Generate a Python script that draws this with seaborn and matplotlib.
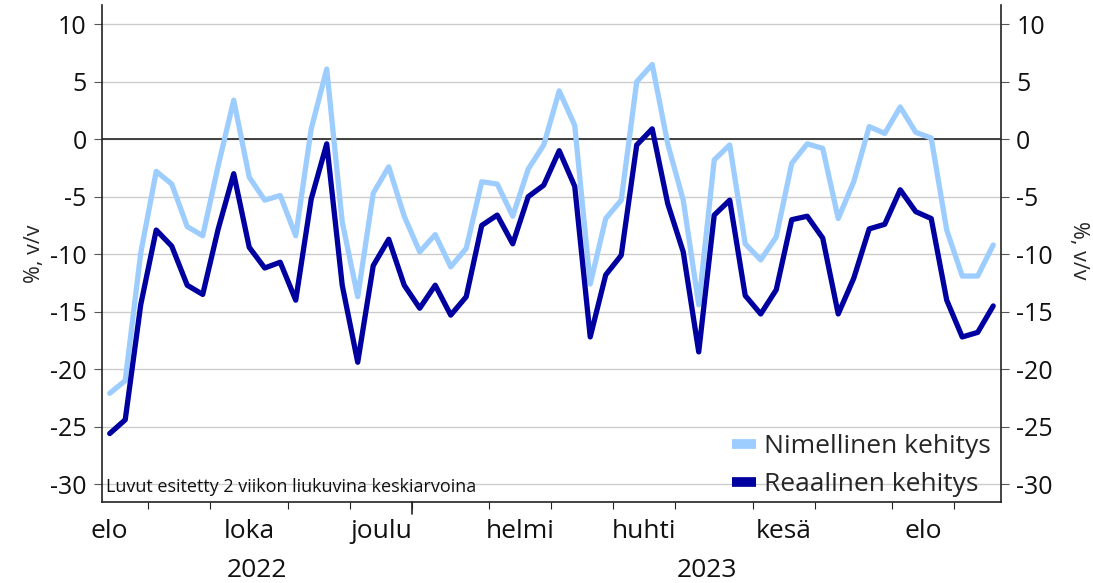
import numpy as np
import pandas as pd
import matplotlib
matplotlib.use("Agg")
import matplotlib.pyplot as plt
import seaborn as sns

# weekly values, Aug 2022 - Sep 2023 (2-week moving averages)
nominal = [-22.1, -21.0, -9.9, -2.8, -3.9, -7.6, -8.4, -2.3, 3.4, -3.3,
           -5.3, -4.9, -8.4, 0.9, 6.1, -7.2, -13.7, -4.7, -2.4, -6.7,
           -9.8, -8.3, -11.1, -9.5, -3.7, -3.9, -6.7, -2.6, -0.5, 4.2,
           1.2, -12.6, -6.9, -5.3, 5.0, 6.5, -0.4, -5.3, -14.4, -1.8,
           -0.5, -9.1, -10.5, -8.5, -2.1, -0.4, -0.8, -6.9, -3.7, 1.1,
           0.5, 2.8, 0.6, 0.1, -7.9, -11.9, -11.9, -9.2]
real = [-25.6, -24.4, -14.4, -7.9, -9.3, -12.7, -13.5, -7.8, -3.0, -9.4,
        -11.2, -10.7, -14.0, -5.2, -0.4, -12.7, -19.4, -11.0, -8.7, -12.7,
        -14.7, -12.7, -15.3, -13.7, -7.5, -6.6, -9.1, -5.0, -4.0, -1.0,
        -4.1, -17.2, -11.8, -10.1, -0.5, 0.9, -5.6, -9.8, -18.5, -6.6,
        -5.3, -13.6, -15.2, -13.1, -7.0, -6.7, -8.6, -15.2, -12.1, -7.8,
        -7.4, -4.4, -6.3, -6.9, -14.0, -17.2, -16.8, -14.5]

# first week index of each month (Aug 2022 ... Sep 2023)
month_starts = [0, 3, 7, 12, 16, 20, 25, 29, 33, 37, 42, 46, 51, 55, 58]
month_names = ["elo", "", "loka", "", "joulu", "", "helmi", "", "huhti", "",
               "kesä", "", "elo", ""]
years = ["2022", "2023"]
year_bounds = [0, 20, 58]

series_names = ["Nimellinen kehitys", "Reaalinen kehitys"]
colors = ["#9dcdff", "#0000a0"]

n = len(nominal)
df = pd.DataFrame({
    "week": list(range(n)) * 2,
    "value": nominal + real,
    "series": [series_names[0]] * n + [series_names[1]] * n,
})

sns.set_style("white")
plt.rcParams["font.family"] = ["Open Sans", "DejaVu Sans"]

fig = plt.figure(figsize=(10.93, 5.83), dpi=100)
ax = fig.add_axes([0.0933, 0.139, 0.8225, 0.852])

sns.lineplot(data=df, x="week", y="value", hue="series", palette=colors,
             linewidth=3.8, ax=ax, legend=True)

ax.set_xlim(-0.5, n - 0.5)
ax.set_ylim(-31.55, 11.65)
ax.set_yticks(np.arange(-30, 11, 5))
ax.set_yticklabels([str(v) for v in range(-30, 11, 5)], fontsize=18)
ax.yaxis.grid(True, color="#cccccc", linewidth=1)
ax.set_axisbelow(True)
ax.axhline(0, color="#333333", linewidth=1.3, zorder=1)

for s in ["left", "right", "bottom"]:
    ax.spines[s].set_color("#222222")
    ax.spines[s].set_linewidth(1.2)
ax.spines["top"].set_visible(False)

ax.tick_params(axis="y", left=True, right=True, labelright=True,
               length=6, color="#555555", pad=5, labelcolor="#111111")

# month boundary ticks, longer one at the year change
bounds = [b - 0.5 for b in month_starts[1:-1]]
ax.set_xticks(bounds)
ax.set_xticklabels([""] * len(bounds))
ax.tick_params(axis="x", bottom=True, length=5, color="#222222")
ax.plot([year_bounds[1] - 0.5] * 2, [0, -0.025], transform=ax.get_xaxis_transform(),
        color="#222222", lw=1.2, clip_on=False)

trans = ax.get_xaxis_transform()
for i, name in enumerate(month_names):
    if not name:
        continue
    c = (month_starts[i] + month_starts[i + 1]) / 2 - 0.5
    if i == 0:
        c = 0.0
    ax.text(c, -0.06, name, transform=trans, ha="center", va="center",
            fontsize=19, color="#111111")
for i, y in enumerate(years):
    c = (year_bounds[i] + year_bounds[i + 1]) / 2 - 0.5
    ax.text(c, -0.138, y, transform=trans, ha="center", va="center",
            fontsize=19, color="#111111")

ax.set_xlabel("")
ax.set_ylabel("%, v/v", fontsize=15.5, labelpad=4)
fig.text(0.987, 0.57, "%, v/v", rotation=270, fontsize=15.5, ha="center", va="center")

ax.text(0.004, 0.03, "Luvut esitetty 2 viikon liukuvina keskiarvoina",
        transform=ax.transAxes, fontsize=13, ha="left", va="center", color="#111111")

leg = ax.legend(loc="lower right", bbox_to_anchor=(1.0, -0.012), frameon=False,
                fontsize=19, handlelength=0.9, handletextpad=0.3,
                labelspacing=0.5, borderaxespad=0.0)
for h in leg.get_lines():
    h.set_linewidth(7)
    h.set_solid_capstyle("butt")

fig.savefig("out.png", dpi=100)
